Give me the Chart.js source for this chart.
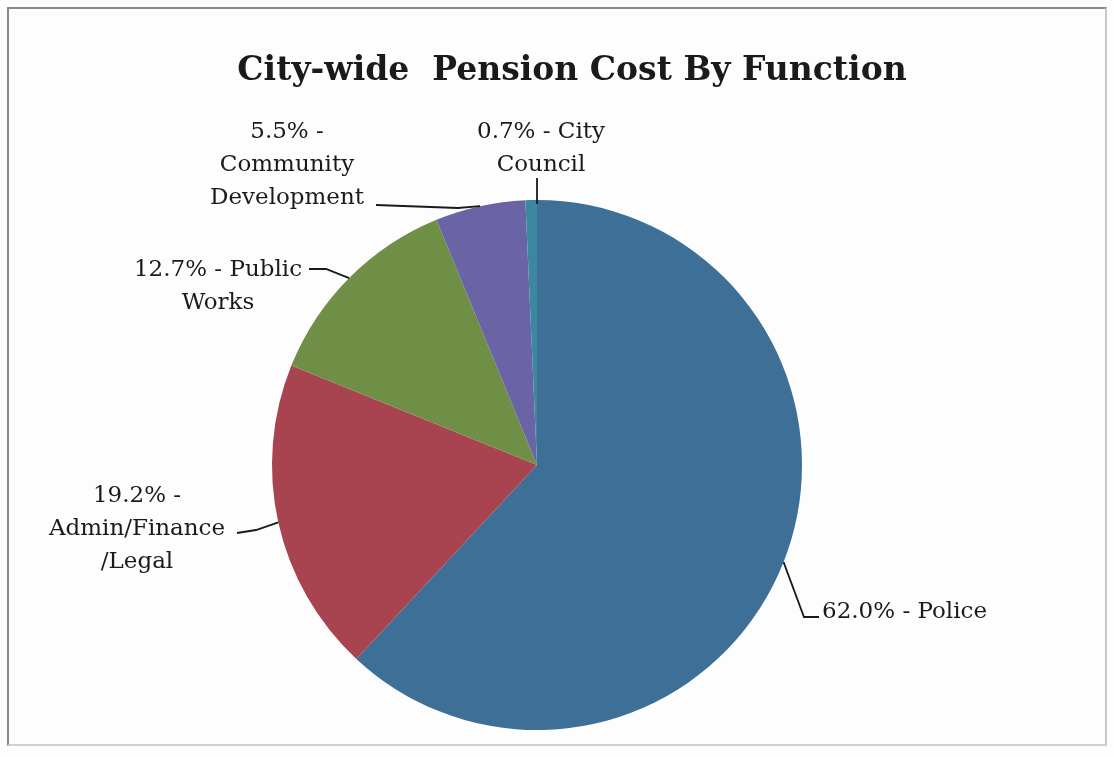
<!DOCTYPE html>
<html>
<head>
<meta charset="utf-8">
<script src="https://cdn.jsdelivr.net/npm/chart.js@4/dist/chart.umd.min.js"></script>
<style>
  html, body { margin: 0; padding: 0; background: #fdfdfd; }
  #wrap { position: relative; width: 1114px; height: 757px; }
  #frame { position: absolute; left: 7px; top: 7px; width: 1100px; height: 739px; border: 2px solid #8a8a8a; border-right-color: #c8c8c8; border-bottom-color: #d0d0d0; box-sizing: border-box; }
  canvas { position: absolute; left: 0; top: 0; }
</style>
</head>
<body>
<div id="wrap">
  <div id="frame"></div>
  <canvas id="pie" width="1114" height="757"></canvas>
</div>
<script>
// data (clockwise from 12 o'clock)
const categories = ['Police', 'Admin/Finance/Legal', 'Public Works', 'Community Development', 'City Council'];
const percents = [62.0, 19.2, 12.7, 5.5, 0.7];
const sliceColors = ['#3e6f96', '#a84450', '#6f8f47', '#6a63a6', '#3b88a0'];
const labelLines = [
    ['62.0% - Police'],
    ['19.2% -', 'Admin/Finance', '/Legal'],
    ['12.7% - Public', 'Works'],
    ['5.5% -', 'Community', 'Development'],
    ['0.7% - City', 'Council']
];
const chartTitle = 'City-wide  Pension Cost By Function';

// where each label sits and how its leader bends (layout only)
const labelPos = [
    { x: 822, y: 618, align: 'left',   leader: [[804, 617], [819, 617]] },
    { x: 137, y: 502, align: 'center', leader: [[256, 530], [237, 533]] },
    { x: 218, y: 276, align: 'center', leader: [[326, 269], [309, 269]] },
    { x: 287, y: 138, align: 'center', leader: [[458, 208], [376, 205]] },
    { x: 541, y: 138, align: 'center', leader: [[537, 178]] }
];
const FONT = '"DejaVu Serif", "Liberation Serif", serif';

const labelPlugin = {
    id: 'pieLabels',
    afterDraw(chart) {
        const ctx = chart.ctx;
        const arcs = chart.getDatasetMeta(0).data;
        ctx.save();
        // title
        ctx.fillStyle = '#1a1a1a';
        ctx.font = 'bold 33px ' + FONT;
        ctx.textAlign = 'center';
        ctx.textBaseline = 'alphabetic';
        ctx.fillText(chartTitle, 572, 80);

        ctx.font = '23px ' + FONT;
        arcs.forEach((arc, i) => {
            const p = labelPos[i];
            const mid = (arc.startAngle + arc.endAngle) / 2;
            let ax = arc.x + Math.cos(mid) * arc.outerRadius;
            let ay = arc.y + Math.sin(mid) * arc.outerRadius;
            ctx.strokeStyle = '#1a1a1a';
            ctx.lineWidth = 1.8;
            ctx.beginPath();
            if (i === 4) {
                ctx.moveTo(p.leader[0][0], ay + 4);
                ctx.lineTo(p.leader[0][0], p.leader[0][1]);
            } else {
                ctx.moveTo(ax, ay);
                p.leader.forEach(pt => ctx.lineTo(pt[0], pt[1]));
            }
            ctx.stroke();
            ctx.textAlign = p.align;
            labelLines[i].forEach((t, k) => ctx.fillText(t, p.x, p.y + k * 33));
        });
        ctx.restore();
    }
};

new Chart(document.getElementById('pie'), {
    type: 'pie',
    data: {
        labels: categories,
        datasets: [{ data: percents, backgroundColor: sliceColors, borderWidth: 0 }]
    },
    options: {
        responsive: false,
        animation: false,
        layout: { padding: { left: 272, right: 312, top: 200, bottom: 27 } },
        plugins: { legend: { display: false }, tooltip: { enabled: false }, title: { display: false } }
    },
    plugins: [labelPlugin]
});
</script>
</body>
</html>
